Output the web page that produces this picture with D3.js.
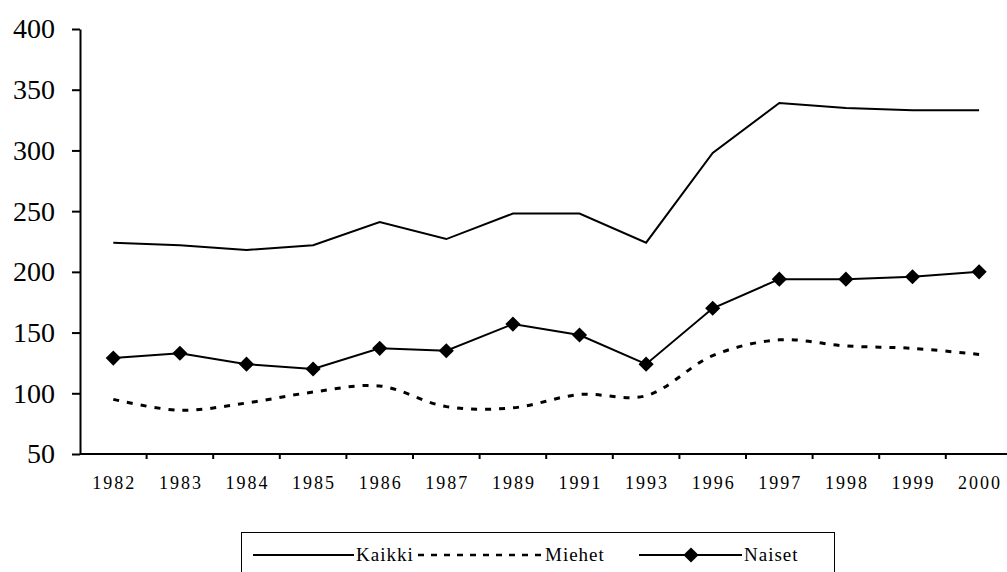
<!DOCTYPE html>
<html>
<head>
<meta charset="utf-8">
<script src="https://cdn.jsdelivr.net/npm/d3@7"></script>
<style>
  body { margin: 0; background: #fff; }
  svg { display: block; font-family: "Liberation Serif", "Times New Roman", serif; }
</style>
</head>
<body>
<div id="canvas"></div>
<script>
"use strict"

/* Data */
let years = ["1982", "1983", "1984", "1985", "1986", "1987", "1989",
             "1991", "1993", "1996", "1997", "1998", "1999", "2000"];
let kaikki = [224, 222, 218, 222, 241, 227, 248, 248, 224, 298, 339, 335, 333, 333];
let miehet = [95, 86, 92, 101, 106, 89, 88, 99, 98, 131, 144, 139, 137, 132];
let naiset = [129, 133, 124, 120, 137, 135, 157, 148, 124, 170, 194, 194, 196, 200];
let yTicks = [50, 100, 150, 200, 250, 300, 350, 400];

/* Drawing setup */
let svgWidth = 1007;
let svgHeight = 572;
let plotLeft = 80;
let plotTop = 29;
let plotBottom = 454;
let band = 66.6;

let svg = d3.select("#canvas")
    .append("svg")
    .attr("width", svgWidth)
    .attr("height", svgHeight);

let xScale = d3.scaleBand()
    .domain(years)
    .range([plotLeft, plotLeft + band * years.length])
    .padding(0);

let yScale = d3.scaleLinear()
    .domain([50, 400])
    .range([plotBottom, plotTop]);

let cx = function (d, i) { return xScale(years[i]) + xScale.bandwidth() / 2; };

/* y axis */
let yAxis = svg.append("g")
    .attr("transform", "translate(" + plotLeft + ",0)")
    .call(d3.axisLeft(yScale).tickValues(yTicks).tickSize(8).tickSizeOuter(0).tickPadding(17));
yAxis.selectAll("path, line")
    .attr("stroke", "#000")
    .attr("stroke-width", 2);
yAxis.selectAll("text")
    .attr("font-family", "Liberation Serif")
    .attr("font-size", 28)
    .attr("fill", "#000");

/* x axis line + ticks between categories */
svg.append("line")
    .attr("x1", plotLeft)
    .attr("x2", plotLeft + band * years.length)
    .attr("y1", plotBottom)
    .attr("y2", plotBottom)
    .attr("stroke", "#000")
    .attr("stroke-width", 2);

svg.selectAll(".xtick")
    .data(years.slice(1).concat(["end"]))
    .join("line")
    .attr("class", "xtick")
    .attr("x1", function (d, i) { return xScale.range()[0] + band * (i + 1); })
    .attr("x2", function (d, i) { return xScale.range()[0] + band * (i + 1); })
    .attr("y1", plotBottom)
    .attr("y2", plotBottom + 5)
    .attr("stroke", "#000")
    .attr("stroke-width", 2);

svg.selectAll(".xlabel")
    .data(years)
    .join("text")
    .attr("class", "xlabel")
    .attr("x", function (d) { return xScale(d) + xScale.bandwidth() / 2 + 1; })
    .attr("y", 489)
    .attr("text-anchor", "middle")
    .attr("font-size", 18)
    .attr("letter-spacing", 2)
    .text(function (d) { return d; });

/* lines */
let straight = d3.line()
    .x(cx)
    .y(function (d) { return yScale(d); });

let smooth = d3.line()
    .x(cx)
    .y(function (d) { return yScale(d); })
    .curve(d3.curveCatmullRom.alpha(0.5));

svg.append("path")
    .datum(kaikki)
    .attr("d", straight)
    .attr("fill", "none")
    .attr("stroke", "#000")
    .attr("stroke-width", 2);

svg.append("path")
    .datum(miehet)
    .attr("d", smooth)
    .attr("fill", "none")
    .attr("stroke", "#000")
    .attr("stroke-width", 3)
    .attr("stroke-dasharray", "6,8");

svg.append("path")
    .datum(naiset)
    .attr("d", straight)
    .attr("fill", "none")
    .attr("stroke", "#000")
    .attr("stroke-width", 2);

let diamond = d3.symbol().type(d3.symbolSquare).size(115);

svg.selectAll(".marker")
    .data(naiset)
    .join("path")
    .attr("class", "marker")
    .attr("d", diamond)
    .attr("transform", function (d, i) {
        return "translate(" + cx(d, i) + "," + yScale(d) + ") rotate(45)";
    })
    .attr("fill", "#000");

/* legend */
svg.append("rect")
    .attr("x", 241.5)
    .attr("y", 532.5)
    .attr("width", 593)
    .attr("height", 60)
    .attr("fill", "#fff")
    .attr("stroke", "#000")
    .attr("stroke-width", 1);

let ly = 555;

svg.append("line")
    .attr("x1", 253).attr("x2", 354)
    .attr("y1", ly).attr("y2", ly)
    .attr("stroke", "#000").attr("stroke-width", 2);
svg.append("text")
    .attr("x", 356).attr("y", ly + 6)
    .attr("font-size", 19).attr("letter-spacing", 1)
    .text("Kaikki");

svg.append("line")
    .attr("x1", 418).attr("x2", 543)
    .attr("y1", ly).attr("y2", ly)
    .attr("stroke", "#000").attr("stroke-width", 2.5)
    .attr("stroke-dasharray", "6,7");
svg.append("text")
    .attr("x", 545).attr("y", ly + 6)
    .attr("font-size", 19).attr("letter-spacing", 1)
    .text("Miehet");

svg.append("line")
    .attr("x1", 639).attr("x2", 742)
    .attr("y1", ly).attr("y2", ly)
    .attr("stroke", "#000").attr("stroke-width", 2);
svg.append("path")
    .attr("d", diamond)
    .attr("transform", "translate(691," + ly + ") rotate(45)")
    .attr("fill", "#000");
svg.append("text")
    .attr("x", 744).attr("y", ly + 6)
    .attr("font-size", 19).attr("letter-spacing", 1)
    .text("Naiset");
</script>
</body>
</html>
